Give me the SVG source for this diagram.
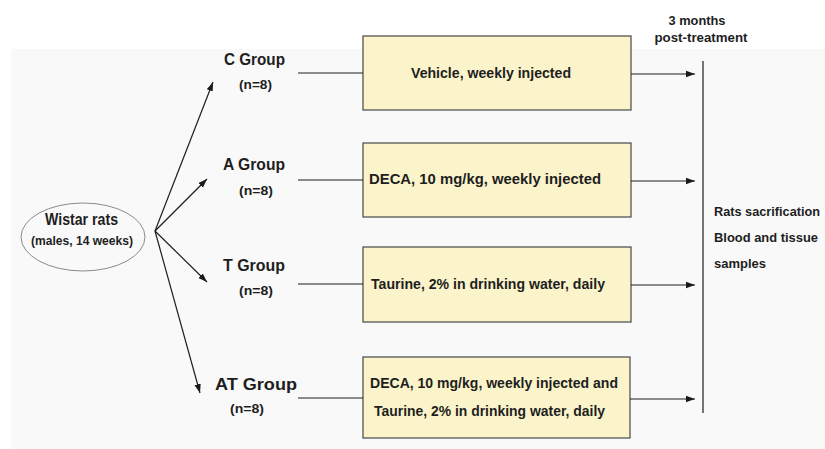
<svg xmlns="http://www.w3.org/2000/svg" width="825" height="449" viewBox="0 0 825 449">
<defs>
<marker id="ah" markerUnits="userSpaceOnUse" markerWidth="10" markerHeight="8" refX="9" refY="4" orient="auto">
<path d="M0,0.8 L9,4 L0,7.2 Z" fill="#1a1a1a"/>
</marker>
</defs>
<style>
text{font-family:"Liberation Sans",Arial,sans-serif;font-weight:bold;fill:#1e1e1e}
.g{font-size:16px}
.n{font-size:13.5px}
.b{font-size:15px}
.r{font-size:13px}
.box{fill:#fbf4ca;stroke:#555;stroke-width:1.3}
.ln{stroke:#1e1e1e;stroke-width:1.2;fill:none}
</style>
<rect x="0" y="0" width="825" height="449" fill="#ffffff"/>
<rect x="11" y="49" width="814" height="400" fill="#f9f9f9"/>

<g id="header">
<text class="n" x="697" y="25" text-anchor="middle" textLength="57" lengthAdjust="spacingAndGlyphs">3 months</text>
<text class="n" x="701" y="42" text-anchor="middle" textLength="93" lengthAdjust="spacingAndGlyphs">post-treatment</text>
</g>

<g id="wistar">
<ellipse cx="83" cy="237" rx="62" ry="34" fill="#f9f9f9" stroke="#8a8a8a" stroke-width="1"/>
<text class="g" x="45" y="225" textLength="73" lengthAdjust="spacingAndGlyphs">Wistar rats</text>
<text x="31" y="245" style="font-size:12.5px" textLength="102" lengthAdjust="spacingAndGlyphs">(males, 14 weeks)</text>
</g>

<g id="c-group">
<text class="g" x="224" y="65" textLength="61" lengthAdjust="spacingAndGlyphs">C Group</text>
<text class="n" x="239" y="89" textLength="33" lengthAdjust="spacingAndGlyphs">(n=8)</text>
</g>
<g id="a-group">
<text class="g" x="223" y="170" textLength="62" lengthAdjust="spacingAndGlyphs">A Group</text>
<text class="n" x="239" y="195" textLength="34" lengthAdjust="spacingAndGlyphs">(n=8)</text>
</g>
<g id="t-group">
<text class="g" x="223" y="271" textLength="62" lengthAdjust="spacingAndGlyphs">T Group</text>
<text class="n" x="239" y="295" textLength="34" lengthAdjust="spacingAndGlyphs">(n=8)</text>
</g>
<g id="at-group">
<text class="g" x="215" y="390" textLength="82" lengthAdjust="spacingAndGlyphs">AT Group</text>
<text class="n" x="230" y="413" textLength="34" lengthAdjust="spacingAndGlyphs">(n=8)</text>
</g>

<g id="box-c">
<rect class="box" x="363" y="36" width="268" height="74"/>
<text class="b" x="411" y="78" textLength="160" lengthAdjust="spacingAndGlyphs">Vehicle, weekly injected</text>
</g>
<g id="box-a">
<rect class="box" x="363" y="143" width="268" height="74"/>
<text class="b" x="369" y="184" textLength="232" lengthAdjust="spacingAndGlyphs">DECA, 10 mg/kg, weekly injected</text>
</g>
<g id="box-t">
<rect class="box" x="363" y="247" width="268" height="75"/>
<text class="b" x="371" y="289" textLength="234" lengthAdjust="spacingAndGlyphs">Taurine, 2% in drinking water, daily</text>
</g>
<g id="box-at">
<rect class="box" x="363" y="357" width="267" height="81"/>
<text class="b" x="370" y="388" textLength="248" lengthAdjust="spacingAndGlyphs">DECA, 10 mg/kg, weekly injected and</text>
<text class="b" x="374" y="416" textLength="231" lengthAdjust="spacingAndGlyphs">Taurine, 2% in drinking water, daily</text>
</g>

<g id="outcome">
<text class="r" x="714" y="216" textLength="106" lengthAdjust="spacingAndGlyphs">Rats sacrification</text>
<text class="r" x="714" y="242" textLength="104" lengthAdjust="spacingAndGlyphs">Blood and tissue</text>
<text class="r" x="714" y="268" textLength="52" lengthAdjust="spacingAndGlyphs">samples</text>
</g>

<g id="connectors">
<line class="ln" x1="155" y1="231" x2="213" y2="82" marker-end="url(#ah)"/>
<line class="ln" x1="155" y1="231" x2="207" y2="179" marker-end="url(#ah)"/>
<line class="ln" x1="155" y1="231" x2="207" y2="282" marker-end="url(#ah)"/>
<line class="ln" x1="155" y1="231" x2="200" y2="393" marker-end="url(#ah)"/>
<line class="ln" x1="298" y1="73" x2="363" y2="73"/>
<line class="ln" x1="298" y1="180" x2="363" y2="180"/>
<line class="ln" x1="298" y1="284" x2="363" y2="284"/>
<line class="ln" x1="298" y1="398" x2="363" y2="398"/>
<line class="ln" x1="631" y1="74" x2="695" y2="74" marker-end="url(#ah)"/>
<line class="ln" x1="631" y1="181" x2="695" y2="181" marker-end="url(#ah)"/>
<line class="ln" x1="631" y1="285" x2="695" y2="285" marker-end="url(#ah)"/>
<line class="ln" x1="630" y1="399" x2="695" y2="399" marker-end="url(#ah)"/>
<line class="ln" x1="703" y1="61" x2="703" y2="413"/>
</g>
</svg>
